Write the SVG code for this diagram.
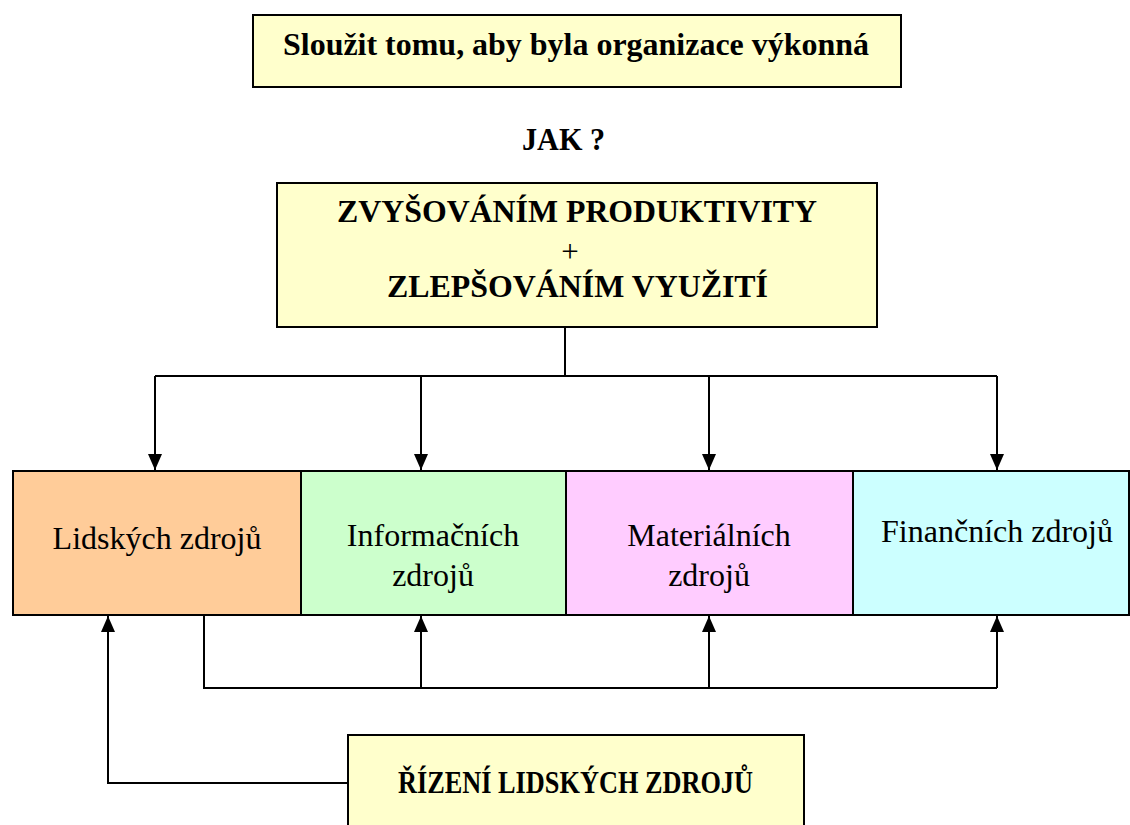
<svg xmlns="http://www.w3.org/2000/svg" width="1130" height="825" viewBox="0 0 1130 825">
<style>
.box{stroke:#000;stroke-width:2}
.b{font-family:"Liberation Serif","Times New Roman",serif;font-weight:bold;fill:#000;text-anchor:middle}
.r{font-family:"Liberation Serif","Times New Roman",serif;fill:#000;text-anchor:middle}
.c{fill:none;stroke:#000;stroke-width:2}
</style>
<defs>
<marker id="ah" viewBox="0 0 16 14" refX="16" refY="7" markerWidth="16" markerHeight="14" markerUnits="userSpaceOnUse" orient="auto">
<path d="M0,0 L16,7 L0,14 Z" fill="#000"/>
</marker>
</defs>
<rect width="1130" height="825" fill="#fff"/>
<g id="goal">
<rect class="box" x="253" y="15" width="648" height="72" fill="#FFFFCC"/>
<text class="b" x="576" y="55" font-size="32" textLength="586" lengthAdjust="spacingAndGlyphs">Sloužit tomu, aby byla organizace výkonná</text>
</g>
<g id="jak">
<text class="b" x="563.5" y="150" font-size="31" textLength="83" lengthAdjust="spacingAndGlyphs">JAK ?</text>
</g>
<g id="how">
<rect class="box" x="277" y="183" width="600" height="144" fill="#FFFFCC"/>
<text class="b" x="577" y="222" font-size="31" textLength="480" lengthAdjust="spacingAndGlyphs">ZVYŠOVÁNÍM PRODUKTIVITY</text>
<text class="r" x="570" y="262" font-size="31">+</text>
<text class="b" x="577.5" y="297" font-size="31" textLength="381" lengthAdjust="spacingAndGlyphs">ZLEPŠOVÁNÍM VYUŽITÍ</text>
</g>
<g id="lidske">
<rect class="box" x="13" y="471" width="288" height="144" fill="#FFCC99"/>
<text class="r" x="157" y="549" font-size="32">Lidských zdrojů</text>
</g>
<g id="informacni">
<rect class="box" x="301" y="471" width="265" height="144" fill="#CCFFCC"/>
<text class="r" x="433" y="546" font-size="32">Informačních</text>
<text class="r" x="433" y="586" font-size="32">zdrojů</text>
</g>
<g id="materialni">
<rect class="box" x="566" y="471" width="287" height="144" fill="#FFCCFF"/>
<text class="r" x="709" y="546" font-size="32">Materiálních</text>
<text class="r" x="709" y="586" font-size="32">zdrojů</text>
</g>
<g id="financni">
<rect class="box" x="853" y="471" width="276" height="144" fill="#CCFFFF"/>
<text class="r" x="997" y="542" font-size="32">Finančních zdrojů</text>
</g>
<g id="rizeni">
<rect class="box" x="348" y="735" width="456" height="100" fill="#FFFFCC"/>
<text class="b" x="575.5" y="793" font-size="31" textLength="355" lengthAdjust="spacingAndGlyphs">ŘÍZENÍ LIDSKÝCH ZDROJŮ</text>
</g>
<g id="connectors">
<path class="c" d="M565,327 V376 M155,376 H997"/>
<path class="c" d="M155,376 V470" marker-end="url(#ah)"/>
<path class="c" d="M421,376 V470" marker-end="url(#ah)"/>
<path class="c" d="M709,376 V470" marker-end="url(#ah)"/>
<path class="c" d="M997,376 V470" marker-end="url(#ah)"/>
<path class="c" d="M204,615 V688 H997"/>
<path class="c" d="M421,688 V616" marker-end="url(#ah)"/>
<path class="c" d="M709,688 V616" marker-end="url(#ah)"/>
<path class="c" d="M997,688 V616" marker-end="url(#ah)"/>
<path class="c" d="M348,783 H108 V616" marker-end="url(#ah)"/>
</g>
</svg>
